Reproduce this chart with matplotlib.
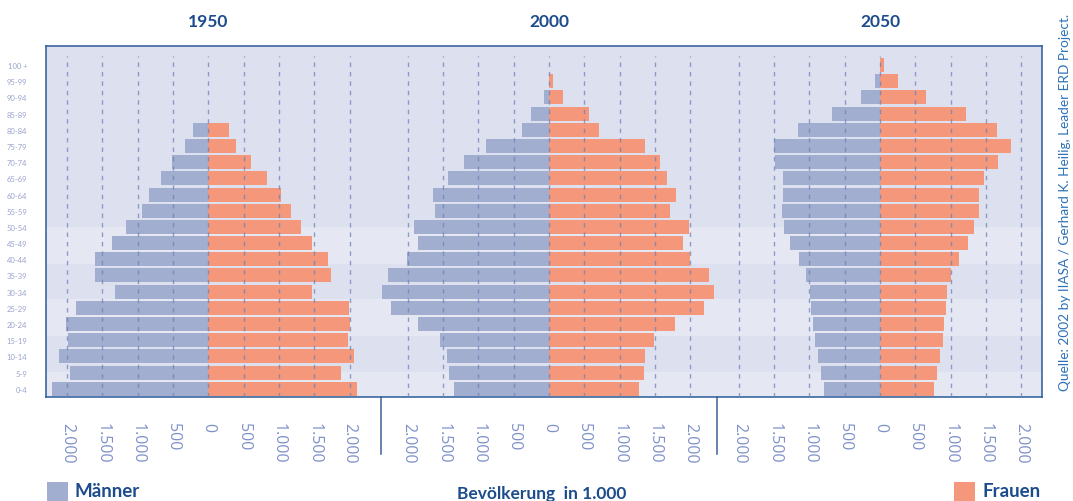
import matplotlib
matplotlib.use("Agg")
import matplotlib.pyplot as plt
import matplotlib.transforms as mtransforms
from matplotlib.patches import Rectangle
import numpy as np

# ---------------- data ----------------
age_groups = ["0-4", "5-9", "10-14", "15-19", "20-24", "25-29", "30-34", "35-39",
              "40-44", "45-49", "50-54", "55-59", "60-64", "65-69", "70-74",
              "75-79", "80-84", "85-89", "90-94", "95-99", "100 +"]
years = ["1950", "2000", "2050"]

male_1950 = [2212, 1958, 2113, 1986, 2014, 1873, 1321, 1604, 1604, 1363, 1165,
             939, 840, 670, 514, 330, 217, 0, 0, 0, 0]
female_1950 = [2104, 1877, 2061, 1976, 2000, 1991, 1467, 1736, 1693, 1467, 1311,
               1170, 1028, 830, 604, 392, 292, 0, 0, 0, 0]

male_2000 = [1344, 1415, 1443, 1542, 1854, 2236, 2363, 2278, 2009, 1854, 1910,
             1613, 1642, 1429, 1203, 892, 382, 255, 71, 0, 0]
female_2000 = [1274, 1344, 1358, 1486, 1783, 2193, 2335, 2264, 1995, 1896, 1981,
               1712, 1797, 1670, 1571, 1358, 708, 566, 198, 57, 0]

male_2050 = [792, 835, 877, 920, 948, 976, 991, 1047, 1146, 1274, 1358,
             1392, 1373, 1373, 1491, 1500, 1160, 679, 269, 71, 0]
female_2050 = [764, 807, 849, 892, 906, 934, 948, 1005, 1118, 1245, 1330,
               1401, 1401, 1472, 1670, 1854, 1656, 1217, 651, 255, 57]

tick_values = [-2000, -1500, -1000, -500, 0, 500, 1000, 1500, 2000]
tick_labels = ["2.000", "1.500", "1.000", "500", "0", "500", "1.000", "1.500", "2.000"]

# ---------------- layout / style ----------------
centers = [0, 4826, 9514]
male_col = "#a2aed0"
female_col = "#f5977a"
dark_blue = "#1c4c8c"
tick_col = "#7f91c8"
band_dark = "#dde0ee"
band_light = "#e5e7f3"

fig = plt.figure(figsize=(10.73, 5.02), dpi=100)
ax = fig.add_axes([0.0429, 0.2072, 0.9279, 0.6992])

ymin, ymax = -0.51, 21.18
xmin, xmax = -2299, 11805
ax.set_xlim(xmin, xmax)
ax.set_ylim(ymin, ymax)

# background bands
ax.set_facecolor(band_dark)
band_edges = [ymin, 1.05, 3.28, 5.54, 7.71, 10.01, ymax]
for i in range(len(band_edges) - 1):
    col = band_light if i % 2 == 0 else band_dark
    ax.axhspan(band_edges[i], band_edges[i + 1], color=col, lw=0, zorder=0)

y = np.arange(len(age_groups))
male_all = [male_1950, male_2000, male_2050]
female_all = [female_1950, female_2000, female_2050]

for c, m, f in zip(centers, male_all, female_all):
    ax.barh(y, -np.array(m), left=c, height=0.865, color=male_col, lw=0, zorder=2)
    ax.barh(y, np.array(f), left=c, height=0.865, color=female_col, lw=0, zorder=2)

# dashed grid lines (drawn over the bars)
for c in centers:
    for tv in tick_values:
        ax.vlines(c + tv, ymin, 20.55, colors="#6f82b8", linestyles=(0, (3.2, 3.6)),
                  lw=1.0, alpha=0.75, zorder=3)

# x ticks
xt = []
xl = []
for c in centers:
    for tv, tl in zip(tick_values, tick_labels):
        xt.append(c + tv)
        xl.append(tl)
ax.set_xticks(xt)
ax.set_xticklabels(xl, rotation=270, fontsize=11.5, color=tick_col,
                   family="Open Sans")
ax.tick_params(axis="x", length=0, pad=18)

# y ticks
ax.set_yticks(y)
ax.set_yticklabels(age_groups, fontsize=5.5, color="#9aa4cc", family="Lato")
ax.tick_params(axis="y", length=0, pad=13.5)

for sp in ax.spines.values():
    sp.set_color("#2a5a9a")
    sp.set_linewidth(1.1)

# year titles
trans = mtransforms.blended_transform_factory(ax.transData, ax.transAxes)
for c, yr in zip(centers, years):
    ax.text(c, 1.071, yr, transform=trans, ha="center", va="center",
            fontsize=12.5, fontweight="bold", color=dark_blue, family="Lato")

# separators below the axis
for sx in [(centers[0] + centers[1]) / 2 + 35, (centers[1] + centers[2]) / 2 + 35]:
    ax.plot([sx, sx], [0, -0.162], transform=trans, color="#3a6296", lw=1.1,
            clip_on=False, zorder=5)

# legend-like labels
fig.patches.append(Rectangle((47 / 1073, 0.0), 21 / 1073, 19 / 502,
                             transform=fig.transFigure, color=male_col, lw=0))
fig.text(75 / 1073, 1 - 492 / 502, "Männer", ha="left", va="center", fontsize=13.5,
         fontweight="bold", color=dark_blue, family="Lato")
fig.patches.append(Rectangle((954 / 1073, 0.0), 21 / 1073, 19 / 502,
                             transform=fig.transFigure, color=female_col, lw=0))
fig.text(983 / 1073, 1 - 492 / 502, "Frauen", ha="left", va="center", fontsize=13.5,
         fontweight="bold", color=dark_blue, family="Lato")
fig.text(542 / 1073, 1 - 494 / 502, "Bevölkerung  in 1.000", ha="center", va="center",
         fontsize=12.5, fontweight="bold", color=dark_blue, family="Lato")

# source text
fig.text(1065 / 1073, 1 - 202 / 502,
         "Quelle: 2002 by IIASA / Gerhard K. Heilig, Leader ERD Project.",
         rotation=90, ha="center", va="center", fontsize=9.8, color="#2e72b8",
         family="Lato")

fig.savefig("out.png", dpi=100)
